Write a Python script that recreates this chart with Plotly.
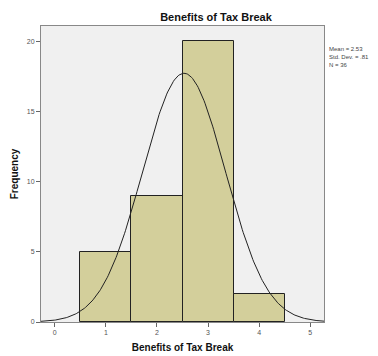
import numpy as np
import plotly.graph_objects as go

categories = [1, 2, 3, 4]
frequencies = [5, 9, 20, 2]
mean_val = 2.53
std_val = 0.81
n_val = 36
x_ticks = [0, 1, 2, 3, 4, 5]
y_ticks = [0, 5, 10, 15, 20]

xs = np.linspace(-0.3, 5.3, 300)
ys = n_val * 1.0 / (std_val * np.sqrt(2 * np.pi)) * np.exp(-0.5 * ((xs - mean_val) / std_val) ** 2)

W, H = 370, 348

fig = go.Figure()
fig.add_trace(go.Bar(x=categories, y=frequencies, width=1,
                     marker=dict(color="#d3cf9b", line=dict(color="#222222", width=1)),
                     hoverinfo="skip"))
fig.add_trace(go.Scatter(x=xs, y=ys, mode="lines", line=dict(color="#222222", width=1),
                         hoverinfo="skip"))

fig.update_layout(
    width=W, height=H,
    margin=dict(l=33, r=54, t=18, b=34, autoexpand=False),
    paper_bgcolor="white", plot_bgcolor="#f0f0f0",
    showlegend=False, bargap=0,
    font=dict(family="Liberation Sans, Arial", color="#333333"),
    title=dict(text="<b>Benefits of Tax Break</b>", x=208/W, xanchor="center",
               y=1-9/H, yanchor="middle", yref="container", automargin=False,
               font=dict(size=11, color="#111111")),
    xaxis=dict(range=[-0.27, 5.27], tickvals=x_ticks, ticks="outside", ticklen=4,
               tickcolor="#666666", tickfont=dict(size=7, color="#555555"),
               showgrid=False, zeroline=False, showline=True, linecolor="#888888",
               mirror=True, linewidth=1, automargin=False,
               title=dict(text="<b>Benefits of Tax Break</b>", font=dict(size=10, color="#111111"),
                          standoff=8)),
    yaxis=dict(range=[0, 21.1], tickvals=y_ticks, ticks="outside", ticklen=4,
               tickcolor="#666666", tickfont=dict(size=7, color="#555555"),
               showgrid=False, zeroline=False, showline=True, linecolor="#888888",
               mirror=True, linewidth=1, automargin=False,
               title=dict(text="<b>Frequency</b>", font=dict(size=10, color="#111111"),
                          standoff=6)),
)

fig.add_annotation(
    text=f"Mean = {mean_val}<br>Std. Dev. = .81<br>N = {n_val}",
    xref="paper", yref="paper", x=1.0, y=0.94, xshift=3,
    xanchor="left", yanchor="top", align="left", showarrow=False,
    font=dict(size=6, color="#444444"))

fig.write_html("out.html")
